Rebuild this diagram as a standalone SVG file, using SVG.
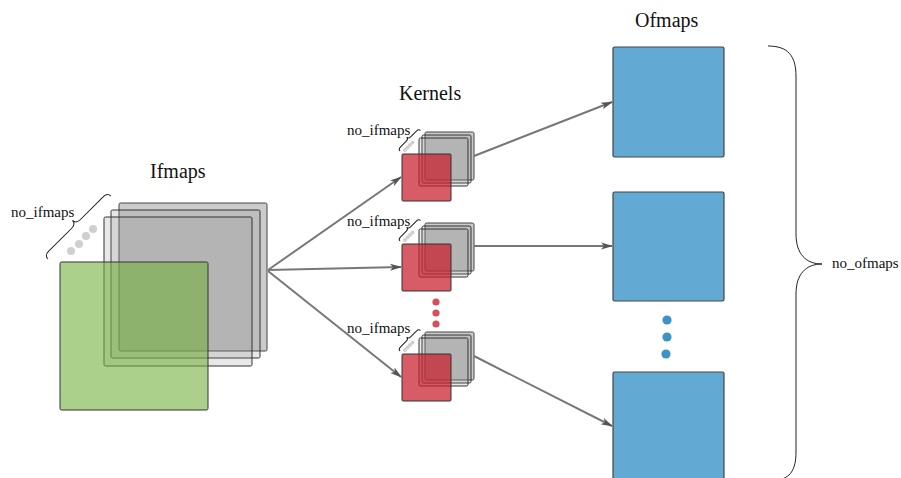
<svg xmlns="http://www.w3.org/2000/svg" width="901" height="478" viewBox="0 0 901 478">
<defs>
<style>
text{font-family:"Liberation Serif","DejaVu Serif",serif;fill:#111}
.title{font-size:20px}
.lbl{font-size:15px}
.gback{fill:#cbcbcb;stroke:#444;stroke-width:1}
.gray{fill:#8a8a8a;fill-opacity:0.2;stroke:#333;stroke-width:1}
.green{fill:#71b13f;fill-opacity:0.6;stroke:#333;stroke-width:1}
.red{fill:#c81d2a;fill-opacity:0.72;stroke:#333;stroke-width:1}
.blue{fill:#62aad4;stroke:#444;stroke-width:1.2}
.brace{fill:none;stroke:#222;stroke-width:1}
.conn{fill:none;stroke:#777;stroke-width:2}
.gdot{fill:#cfcfcf}
</style>
<marker id="ah" viewBox="0 0 12 8" refX="11" refY="4" markerWidth="12" markerHeight="8" markerUnits="userSpaceOnUse" orient="auto">
<path d="M0,0.5 L12,4 L0,7.5 L3,4 Z" fill="#555"/>
</marker>
</defs>

<g id="ifmaps">
<text class="title" x="150" y="178">Ifmaps</text>
<rect class="gback" x="119" y="203" width="148" height="148" rx="1.5"/>
<rect class="gray" x="111" y="210" width="149" height="148" rx="1.5"/>
<rect class="gray" x="104" y="217" width="148" height="149" rx="1.5"/>
<rect class="green" x="60" y="262" width="148" height="148" rx="1.5"/>
<circle class="gdot" cx="71" cy="251" r="4"/>
<circle class="gdot" cx="79" cy="244" r="4"/>
<circle class="gdot" cx="86" cy="236" r="4"/>
<circle class="gdot" cx="93" cy="229" r="4"/>
<path class="brace" transform="translate(48,259) rotate(-45)" d="M0,0 Q0,-5 6,-5 L38.5,-5 Q44.5,-5 44.5,-10 Q44.5,-5 50.5,-5 L83,-5 Q89,-5 89,0"/>
<text class="lbl" x="11" y="217">no_ifmaps</text>
</g>

<g id="kernels-title"><text class="title" x="399" y="100">Kernels</text></g>

<g id="kernel1" transform="translate(402,154)">
<rect class="gback" x="23" y="-22" width="49" height="48" rx="1.5"/>
<rect class="gray" x="20" y="-19" width="49" height="48" rx="1.5"/>
<rect class="gray" x="17" y="-16" width="49" height="48" rx="1.5"/>
<rect class="red" x="0" y="0" width="49" height="47" rx="1"/>
<circle class="gdot" cx="3" cy="-4" r="2"/>
<circle class="gdot" cx="5.5" cy="-6.5" r="2"/>
<circle class="gdot" cx="8" cy="-9" r="2"/>
<circle class="gdot" cx="10.5" cy="-11.5" r="2"/>
<path class="brace" transform="translate(-2,-3) rotate(-45)" d="M0,0 Q0,-2.5 3,-2.5 L11.5,-2.5 Q14.5,-2.5 14.5,-5 Q14.5,-2.5 17.5,-2.5 L26,-2.5 Q29,-2.5 29,0"/>
<text class="lbl" x="-55" y="-19">no_ifmaps</text>
</g>

<g id="kernel2" transform="translate(402,244)">
<rect class="gback" x="23" y="-21" width="49" height="48" rx="1.5"/>
<rect class="gray" x="20" y="-18" width="49" height="48" rx="1.5"/>
<rect class="gray" x="17" y="-15" width="49" height="48" rx="1.5"/>
<rect class="red" x="0" y="0" width="49" height="47" rx="1"/>
<circle class="gdot" cx="3" cy="-4" r="2"/>
<circle class="gdot" cx="5.5" cy="-6.5" r="2"/>
<circle class="gdot" cx="8" cy="-9" r="2"/>
<circle class="gdot" cx="10.5" cy="-11.5" r="2"/>
<path class="brace" transform="translate(-2,-3) rotate(-45)" d="M0,0 Q0,-2.5 3,-2.5 L11.5,-2.5 Q14.5,-2.5 14.5,-5 Q14.5,-2.5 17.5,-2.5 L26,-2.5 Q29,-2.5 29,0"/>
<text class="lbl" x="-55" y="-18">no_ifmaps</text>
</g>

<g id="kernel-dots">
<circle cx="436" cy="302" r="3.6" fill="#d5505c"/>
<circle cx="436" cy="313" r="3.6" fill="#d5505c"/>
<circle cx="436" cy="324" r="3.6" fill="#d5505c"/>
</g>

<g id="kernel3" transform="translate(402,354)">
<rect class="gback" x="23" y="-22" width="49" height="48" rx="1.5"/>
<rect class="gray" x="20" y="-19" width="49" height="48" rx="1.5"/>
<rect class="gray" x="17" y="-16" width="49" height="48" rx="1.5"/>
<rect class="red" x="0" y="0" width="49" height="47" rx="1"/>
<circle class="gdot" cx="3" cy="-4" r="2"/>
<circle class="gdot" cx="5.5" cy="-6.5" r="2"/>
<circle class="gdot" cx="8" cy="-9" r="2"/>
<circle class="gdot" cx="10.5" cy="-11.5" r="2"/>
<path class="brace" transform="translate(-2,-3) rotate(-45)" d="M0,0 Q0,-2.5 3,-2.5 L11.5,-2.5 Q14.5,-2.5 14.5,-5 Q14.5,-2.5 17.5,-2.5 L26,-2.5 Q29,-2.5 29,0"/>
<text class="lbl" x="-55" y="-21">no_ifmaps</text>
</g>

<g id="ofmaps">
<text class="title" x="635" y="27">Ofmaps</text>
<rect class="blue" x="613" y="47" width="111" height="110" rx="1.5"/>
<rect class="blue" x="613" y="192" width="111" height="109" rx="1.5"/>
<rect class="blue" x="613" y="372" width="111" height="120" rx="1.5"/>
<circle cx="667" cy="320" r="4.6" fill="#3d93c8"/>
<circle cx="667" cy="337" r="4.6" fill="#3d93c8"/>
<circle cx="666" cy="354" r="4.6" fill="#3d93c8"/>
<path class="brace" d="M768,46 C788,46 796,56 796,76 L796,234 C796,254 806,264 822,264 C806,264 796,274 796,294 L796,452 C796,470 790,478 778,480"/>
<text class="lbl" x="832" y="268">no_ofmaps</text>
</g>

<g id="connectors">
<path class="conn" d="M268,270 L401,177" marker-end="url(#ah)"/>
<path class="conn" d="M268,270 L401,267" marker-end="url(#ah)"/>
<path class="conn" d="M268,271 L401,377" marker-end="url(#ah)"/>
<path class="conn" d="M474,156 L612,102" marker-end="url(#ah)"/>
<path class="conn" d="M474,246 L612,246" marker-end="url(#ah)"/>
<path class="conn" d="M474,356 L612,426" marker-end="url(#ah)"/>
</g>
</svg>
